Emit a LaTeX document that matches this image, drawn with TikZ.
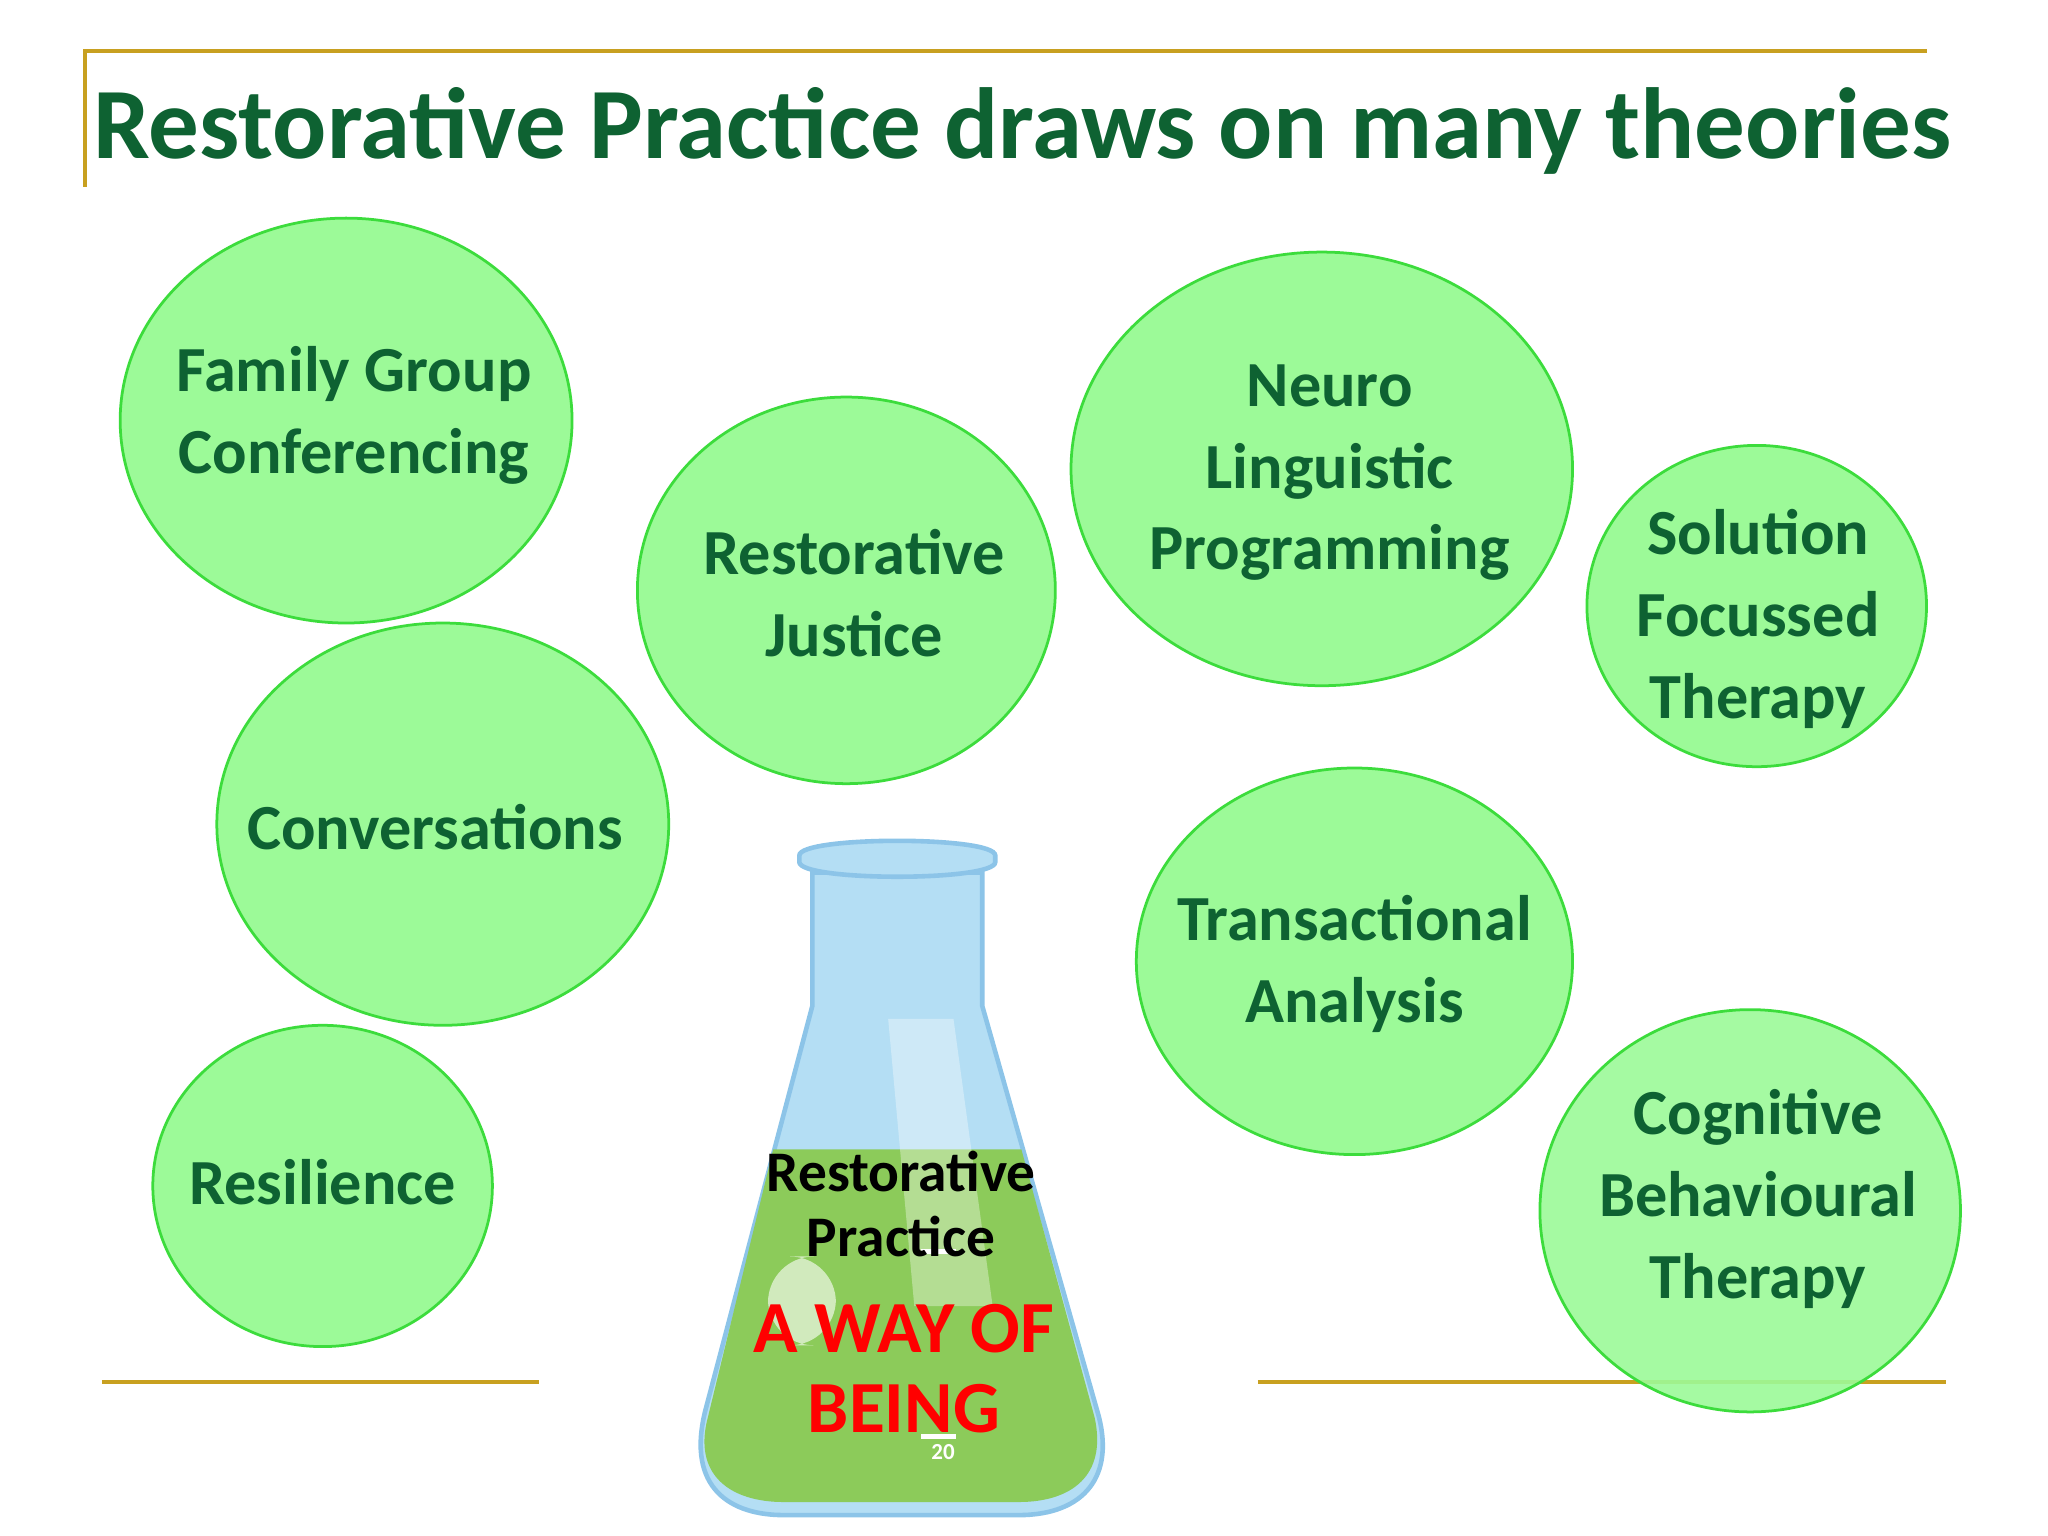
\documentclass[tikz,border=0pt]{standalone}
\usepackage{fontspec}
\setmainfont{Carlito}
\definecolor{gold}{HTML}{C8A020}
\definecolor{dgreen}{HTML}{0E6232}
\definecolor{bfill}{HTML}{9CFA98}
\definecolor{bdraw}{HTML}{3CDC3C}
\definecolor{glass}{HTML}{B4DEF4}
\definecolor{glassd}{HTML}{8CC4E8}
\definecolor{liq}{HTML}{8CCB5A}
\begin{document}
\begin{tikzpicture}[x=0.01cm,y=-0.01cm,
  bub/.style={fill=bfill,draw=bdraw,line width=0.6pt},
  btxt/.style={text=dgreen,font=\fontsize{14}{17.8}\selectfont\bfseries,align=center},
  gl/.style={draw=gold,line width=1pt}]
\useasboundingbox (0,0) rectangle (1568,1176);
\fill[white] (0,0) rectangle (1568,1176);
\coordinate (t1) at (65,143); \coordinate (t2) at (65,39); \coordinate (t3) at (1475,39);
\draw[gl] (t1)--(t2)--(t3);
\coordinate (b1) at (78,1058); \coordinate (b2) at (413,1058);
\coordinate (b3) at (963,1058); \coordinate (b4) at (1490,1058);
\draw[gl] (b1)--(b2); \draw[gl] (b3)--(b4);
\node[text=dgreen,font=\fontsize{22}{26}\selectfont\bfseries] (title) at (783,100) {Restorative Practice draws on many theories};
% bubbles
\draw[bub] (265,322) ellipse (173 and 155);
\node[btxt] (fg) at (271,318) {Family Group\\Conferencing};
\draw[bub] (648,452) ellipse (160 and 148);
\node[btxt] (rj) at (654,454) {Restorative\\Justice};
\draw[bub] (1012,359) ellipse (192 and 166);
\node[btxt] (nlp) at (1018,362) {Neuro\\Linguistic\\Programming};
\draw[bub] (1345,464) ellipse (130 and 123);
\node[btxt] (sf) at (1346,474) {Solution\\Focussed\\Therapy};
\draw[bub] (339,631) ellipse (173 and 154);
\node[btxt] (cv) at (333,633) {Conversations};
\draw[bub] (1037,736) ellipse (167 and 148);
\node[btxt] (ta) at (1037,738) {Transactional\\Analysis};
\draw[bub] (247,908) ellipse (130 and 123);
\node[btxt] (rs) at (247,905) {Resilience};
\draw[bub,fill opacity=0.9] (1340,927) ellipse (161 and 154);
\node[btxt] (cb) at (1346,918) {Cognitive\\Behavioural\\Therapy};
% flask
\fill[glass,draw=glassd,line width=1pt] (622,668) -- (622,770) -- (540,1080) .. controls (525,1140) and (560,1160) .. (600,1160) -- (780,1160) .. controls (830,1160) and (855,1130) .. (840,1080) -- (752,770) -- (752,668) -- cycle;
\fill[liq] (592,880) -- (782,880) -- (838,1085) .. controls (848,1130) and (820,1150) .. (780,1150) -- (600,1150) .. controls (560,1150) and (530,1130) .. (542,1085) -- cycle;
\fill[white,opacity=0.35] (680,780) -- (730,780) -- (760,1000) -- (700,1000) -- cycle;
\fill[glass,draw=glassd,line width=1pt] (612,655) .. controls (612,640) and (762,640) .. (762,655) -- (762,660) .. controls (762,675) and (612,675) .. (612,660) -- cycle;
\fill[white,opacity=0.6,rounded corners=10pt] (588,962) rectangle (640,1030);
\draw[white,line width=1pt] (705,958)--(732,958) (705,1100)--(732,1100);
\node[white,font=\tiny\bfseries,inner sep=0pt] (n20) at (722,1112) {20};
\node[font=\fontsize{12.5}{14.2}\selectfont\bfseries,align=center] (rp) at (690,922) {Restorative\\Practice};
\node[text=red,font=\fontsize{16}{17.5}\selectfont\bfseries,align=center] (way) at (692,1048) {A WAY OF\\BEING};
\end{tikzpicture}
\end{document}
